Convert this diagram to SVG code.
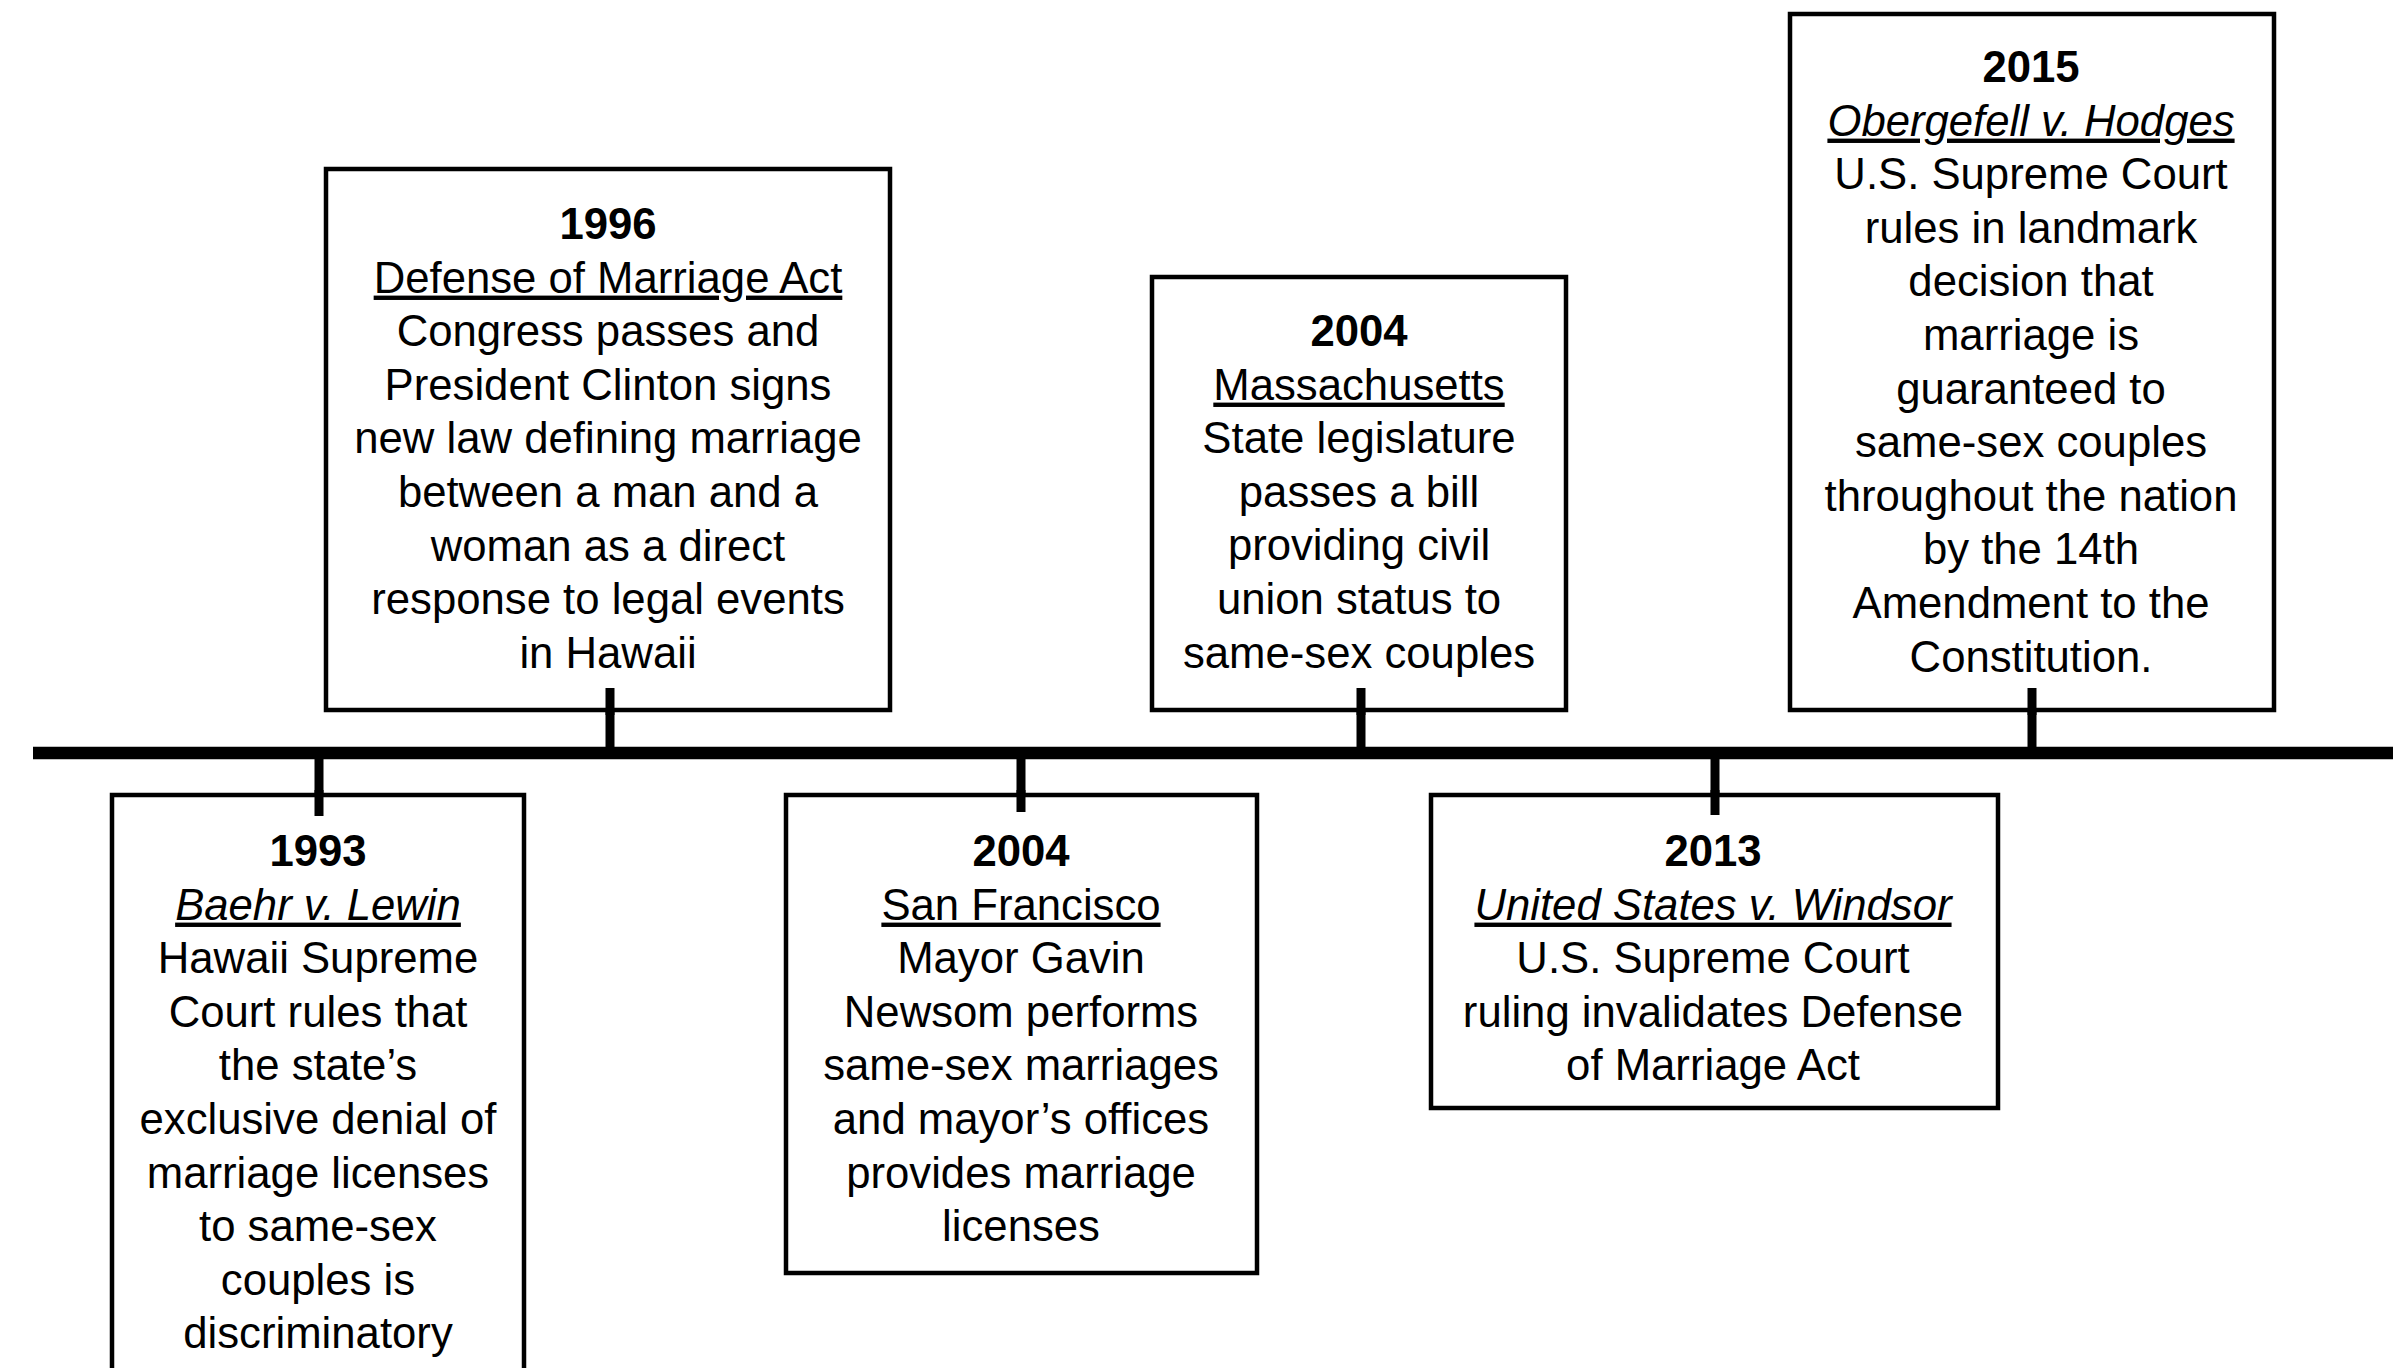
<svg xmlns="http://www.w3.org/2000/svg" width="2403" height="1368" viewBox="0 0 2403 1368">
<style>
.box{fill:#fff;stroke:#000;stroke-width:4.5}
.stem{stroke:#000;stroke-width:9;fill:none}
.axis{stroke:#000;stroke-width:12.5;fill:none}
text{font-family:"Liberation Sans",Arial,sans-serif;font-size:43.7px;fill:#000;text-anchor:middle}
.yr{font-weight:bold}
.ttl{text-decoration:underline}
.it{font-style:italic}
</style>
<rect width="2403" height="1368" fill="#fff"/>
<g id="connectors">
<line class="axis" x1="33" y1="753" x2="2393" y2="753"/>
<line class="stem" x1="319" y1="753" x2="319" y2="816"/>
<line class="stem" x1="610" y1="688" x2="610" y2="753"/>
<line class="stem" x1="1021" y1="753" x2="1021" y2="812"/>
<line class="stem" x1="1361" y1="688" x2="1361" y2="753"/>
<line class="stem" x1="1715" y1="753" x2="1715" y2="815"/>
<line class="stem" x1="2032" y1="688" x2="2032" y2="753"/>
</g>
<g id="n1993">
<rect class="box" x="112" y="795" width="412" height="600"/>
<line class="stem" x1="319" y1="790" x2="319" y2="816"/>
<text x="318" y="866"><tspan class="yr">1993</tspan><tspan x="318" dy="53.6" class="ttl it">Baehr v. Lewin</tspan><tspan x="318" dy="53.6">Hawaii Supreme</tspan><tspan x="318" dy="53.6">Court rules that</tspan><tspan x="318" dy="53.6">the state’s</tspan><tspan x="318" dy="53.6">exclusive denial of</tspan><tspan x="318" dy="53.6">marriage licenses</tspan><tspan x="318" dy="53.6">to same-sex</tspan><tspan x="318" dy="53.6">couples is</tspan><tspan x="318" dy="53.6">discriminatory</tspan></text>
</g>
<g id="n1996">
<rect class="box" x="326" y="169" width="564" height="541"/>
<line class="stem" x1="610" y1="688" x2="610" y2="715"/>
<text x="608" y="239"><tspan class="yr">1996</tspan><tspan x="608" dy="53.6" class="ttl">Defense of Marriage Act</tspan><tspan x="608" dy="53.6">Congress passes and</tspan><tspan x="608" dy="53.6">President Clinton signs</tspan><tspan x="608" dy="53.6">new law defining marriage</tspan><tspan x="608" dy="53.6">between a man and a</tspan><tspan x="608" dy="53.6">woman as a direct</tspan><tspan x="608" dy="53.6">response to legal events</tspan><tspan x="608" dy="53.6">in Hawaii</tspan></text>
</g>
<g id="n2004sf">
<rect class="box" x="786" y="795" width="471" height="478"/>
<line class="stem" x1="1021" y1="790" x2="1021" y2="812"/>
<text x="1021" y="866"><tspan class="yr">2004</tspan><tspan x="1021" dy="53.6" class="ttl">San Francisco</tspan><tspan x="1021" dy="53.6">Mayor Gavin</tspan><tspan x="1021" dy="53.6">Newsom performs</tspan><tspan x="1021" dy="53.6">same-sex marriages</tspan><tspan x="1021" dy="53.6">and mayor’s offices</tspan><tspan x="1021" dy="53.6">provides marriage</tspan><tspan x="1021" dy="53.6">licenses</tspan></text>
</g>
<g id="n2004ma">
<rect class="box" x="1152" y="277" width="414" height="433"/>
<line class="stem" x1="1361" y1="688" x2="1361" y2="715"/>
<text x="1359" y="346"><tspan class="yr">2004</tspan><tspan x="1359" dy="53.6" class="ttl">Massachusetts</tspan><tspan x="1359" dy="53.6">State legislature</tspan><tspan x="1359" dy="53.6">passes a bill</tspan><tspan x="1359" dy="53.6">providing civil</tspan><tspan x="1359" dy="53.6">union status to</tspan><tspan x="1359" dy="53.6">same-sex couples</tspan></text>
</g>
<g id="n2013">
<rect class="box" x="1431" y="795" width="567" height="313"/>
<line class="stem" x1="1715" y1="790" x2="1715" y2="815"/>
<text x="1713" y="866"><tspan class="yr">2013</tspan><tspan x="1713" dy="53.6" class="ttl it">United States v. Windsor</tspan><tspan x="1713" dy="53.6">U.S. Supreme Court</tspan><tspan x="1713" dy="53.6">ruling invalidates Defense</tspan><tspan x="1713" dy="53.6">of Marriage Act</tspan></text>
</g>
<g id="n2015">
<rect class="box" x="1790" y="14" width="484" height="696"/>
<line class="stem" x1="2032" y1="688" x2="2032" y2="715"/>
<text x="2031" y="82"><tspan class="yr">2015</tspan><tspan x="2031" dy="53.6" class="ttl it">Obergefell v. Hodges</tspan><tspan x="2031" dy="53.6">U.S. Supreme Court</tspan><tspan x="2031" dy="53.6">rules in landmark</tspan><tspan x="2031" dy="53.6">decision that</tspan><tspan x="2031" dy="53.6">marriage is</tspan><tspan x="2031" dy="53.6">guaranteed to</tspan><tspan x="2031" dy="53.6">same-sex couples</tspan><tspan x="2031" dy="53.6">throughout the nation</tspan><tspan x="2031" dy="53.6">by the 14th</tspan><tspan x="2031" dy="53.6">Amendment to the</tspan><tspan x="2031" dy="53.6">Constitution.</tspan></text>
</g>
</svg>
